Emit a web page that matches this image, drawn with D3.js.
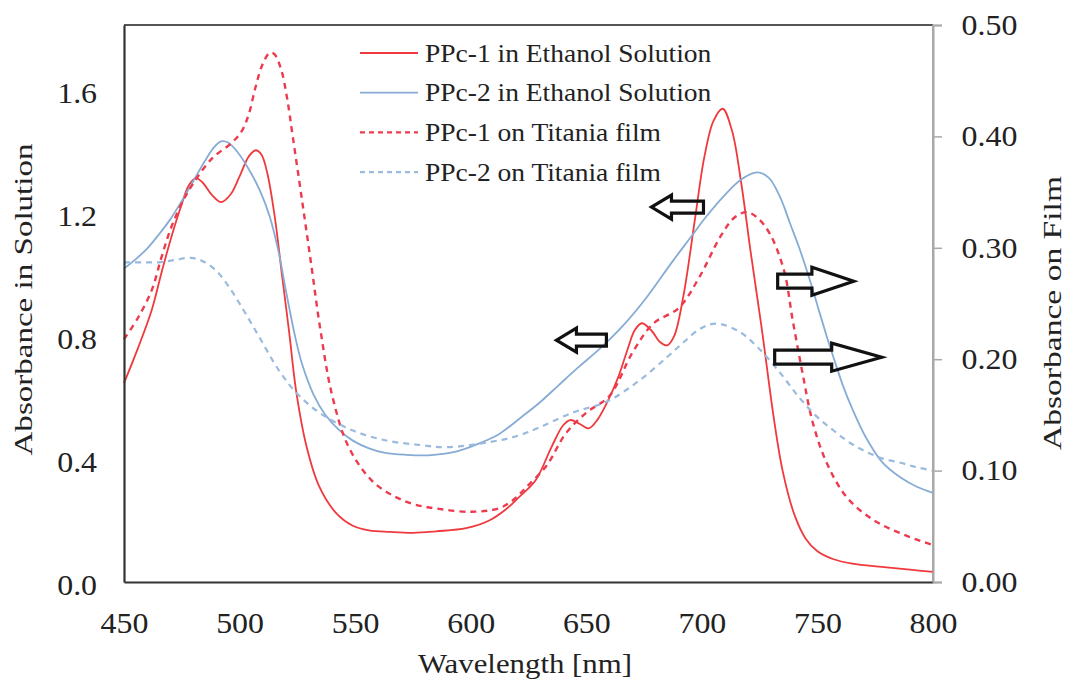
<!DOCTYPE html>
<html><head><meta charset="utf-8">
<script src="https://cdn.jsdelivr.net/npm/d3@7"></script>
<style>
body{margin:0;background:#fff}svg{display:block}
svg text{font-family:"Liberation Serif","Times New Roman",Times,"DejaVu Serif",serif !important;}
</style>
</head><body>
<svg id="chart" width="1068" height="680"></svg>
<script>
// ---- data (wavelength nm, absorbance) ----
const ppc1Solution = [[450,0.647],[456,0.76],[462,0.885],[466,1.0],[470,1.11],[475,1.23],[478,1.29],[481,1.314],[484,1.30],[488,1.26],[492,1.236],[496,1.26],[500,1.32],[504,1.385],[507,1.405],[509.5,1.39],[512,1.33],[515,1.2],[518.5,0.99],[521.5,0.81],[524.5,0.62],[529,0.44],[534.5,0.31],[541.8,0.224],[549,0.183],[556,0.168],[565,0.163],[575,0.16],[585,0.165],[598,0.175],[608,0.20],[615,0.235],[621,0.277],[628,0.33],[635,0.44],[640,0.51],[643,0.527],[647,0.515],[651,0.50],[655,0.53],[660,0.6],[664,0.67],[668,0.76],[671,0.82],[674,0.842],[678,0.82],[682,0.78],[685,0.77],[688,0.8],[692,0.93],[697,1.18],[701,1.38],[705,1.5],[709,1.54],[713,1.47],[717,1.3],[721,1.08],[726,0.82],[731,0.54],[735,0.36],[740,0.22],[745,0.14],[750,0.1],[757,0.074],[765,0.06],[778,0.049],[790,0.04],[800,0.033]];
const ppc2Solution = [[450,1.02],[455,1.05],[460,1.085],[465,1.13],[470,1.18],[475,1.24],[480,1.305],[485,1.37],[489,1.415],[492,1.434],[495,1.43],[499,1.40],[505,1.33],[509,1.27],[513,1.19],[517,1.07],[520,0.95],[524,0.80],[527,0.71],[532,0.61],[537,0.545],[543,0.495],[549,0.46],[556,0.435],[563,0.42],[572,0.414],[583,0.413],[594,0.425],[604,0.452],[612,0.48],[622,0.537],[630,0.585],[638,0.64],[646,0.695],[656,0.76],[666,0.835],[676,0.925],[687,1.04],[695,1.12],[702,1.19],[710,1.26],[717,1.31],[724,1.333],[729,1.315],[734,1.25],[738,1.17],[742,1.09],[746,1.0],[750,0.90],[754,0.80],[757,0.73],[761,0.64],[765,0.565],[771,0.47],[778,0.39],[786,0.34],[793,0.31],[800,0.29]];
const ppc1Film = [[450,0.218],[456,0.237],[462,0.262],[466,0.29],[470,0.316],[475,0.34],[480,0.358],[488,0.38],[497,0.395],[501,0.405],[504,0.42],[507,0.445],[510,0.465],[513,0.475],[515,0.474],[518,0.46],[520.5,0.435],[523,0.400],[527,0.343],[531,0.285],[535,0.226],[540,0.168],[547,0.122],[557,0.0915],[566,0.078],[575,0.07],[585,0.066],[600,0.063],[612,0.066],[618,0.073],[624,0.085],[633,0.105],[641,0.133],[650,0.152],[660,0.167],[670,0.206],[679,0.232],[690,0.246],[699,0.274],[708,0.31],[714,0.327],[719.4,0.332],[724,0.327],[729.3,0.313],[735.5,0.28],[739.3,0.235],[743.6,0.187],[748,0.143],[754,0.107],[762.7,0.076],[774,0.056],[785.6,0.044],[800,0.033]];
const ppc2Film = [[450,0.287],[458,0.287],[465,0.287],[472,0.289],[479,0.291],[485,0.287],[491,0.277],[496,0.263],[500,0.25],[504,0.236],[508.5,0.22],[517,0.19],[524.5,0.17],[534.5,0.152],[549,0.136],[563.5,0.127],[578,0.123],[590,0.121],[608,0.1256],[620,0.131],[630,0.139],[644,0.152],[659,0.162],[673,0.181],[685,0.202],[692,0.215],[699,0.227],[706,0.232],[716,0.225],[724,0.211],[733,0.19],[742,0.166],[750,0.148],[757,0.136],[764,0.125],[771,0.117],[778,0.111],[786,0.107],[793,0.103],[800,0.1]];

const seriesNames = ["PPc-1 in Ethanol Solution","PPc-2 in Ethanol Solution","PPc-1 on Titania film","PPc-2 on Titania film"];
const xTicks = [450,500,550,600,650,700,750,800];
const leftTicks = [0,0.4,0.8,1.2,1.6];
const rightTicks = [0,0.1,0.2,0.3,0.4,0.5];
// arrows: [tail wavelength, tip wavelength, value, axis]
const arrows = [[700.7,678.2,1.22,"L"],[658.7,637.1,0.787,"L"],[732.8,765.7,0.27,"R"],[731.5,777.8,0.2018,"R"]];

// ---- layout ----
const W=1068,H=680, m={left:124,right:135,top:25,bottom:98};
const svg=d3.select("#chart");
const x=d3.scaleLinear([450,800],[m.left,W-m.right]);
const yL=d3.scaleLinear([0,1.8125],[H-m.bottom,m.top]);
const yR=d3.scaleLinear([0,0.5],[H-m.bottom,m.top]);
const font="Liberation Serif, Times New Roman, serif";
const sx=1.1; // horizontal stretch of the reference lettering

const styles=[
 {data:ppc1Solution,y:yL,color:"#f0393c",dash:null,w:1.8},
 {data:ppc2Solution,y:yL,color:"#86acd5",dash:null,w:1.8},
 {data:ppc1Film,y:yR,color:"#ec3b4e",dash:"6,5",w:2.4},
 {data:ppc2Film,y:yR,color:"#9bbbde",dash:"6,5",w:2.2}
];

// frame
svg.append("line").attr("x1",m.left).attr("x2",W-m.right).attr("y1",m.top).attr("y2",m.top).attr("stroke","#555").attr("stroke-width",2);
svg.append("line").attr("x1",W-m.right).attr("x2",W-m.right).attr("y1",m.top).attr("y2",H-m.bottom).attr("stroke","#a8a8a8").attr("stroke-width",2);

// lines
const g=svg.append("g");
styles.forEach(s=>{
  const line=d3.line().x(d=>x(d[0])).y(d=>s.y(d[1])).curve(d3.curveCatmullRom.alpha(0.5));
  g.append("path").datum(s.data).attr("d",line).attr("fill","none")
   .attr("stroke",s.color).attr("stroke-width",s.w).attr("stroke-dasharray",s.dash);
});

// axes
const ax=svg.append("g").attr("transform",`translate(0,${H-m.bottom})`)
  .call(d3.axisBottom(x).tickValues(xTicks).tickSize(0).tickPadding(0).tickFormat(d3.format("d")));
ax.attr("font-family",font);
ax.select(".domain").attr("stroke","#333").attr("stroke-width",2.2);
ax.selectAll("text").attr("font-size",29).attr("fill","#222").attr("dy","1.75em").attr("transform",`scale(${sx},1)`);

const al=svg.append("g").attr("transform",`translate(${m.left},0)`)
  .call(d3.axisLeft(yL).tickValues(leftTicks).tickSize(0).tickPadding(24.5).tickFormat(d3.format(".1f")));
al.attr("font-family",font);
al.select(".domain").attr("stroke","#333").attr("stroke-width",2.2);
al.selectAll("text").attr("font-size",29).attr("fill","#222").attr("dy","0.42em").attr("transform",`scale(${sx},1)`);

const ar=svg.append("g").attr("transform",`translate(${W-m.right},0)`)
  .call(d3.axisRight(yR).tickValues(rightTicks).tickSize(9).tickPadding(17).tickFormat(d3.format(".2f")));
ar.attr("font-family",font);
ar.select(".domain").attr("stroke","#a8a8a8").attr("stroke-width",2);
ar.selectAll(".tick line").attr("stroke","#a8a8a8").attr("stroke-width",1.5);
ar.selectAll("text").attr("font-size",29).attr("fill","#222").attr("dy","0.32em").attr("transform",`scale(${sx},1)`);

// axis titles
svg.append("text").attr("transform","translate(32,299.5) rotate(-90)")
  .attr("text-anchor","middle").attr("font-size",26).attr("fill","#222")
  .attr("textLength",312).attr("lengthAdjust","spacingAndGlyphs")
  .text("Absorbance in Solution");
svg.append("text").attr("transform","translate(1061,313) rotate(-90)")
  .attr("text-anchor","middle").attr("font-size",25).attr("fill","#222")
  .attr("textLength",274).attr("lengthAdjust","spacingAndGlyphs")
  .text("Absorbance on Film");
svg.append("text").attr("x",525).attr("y",673)
  .attr("text-anchor","middle").attr("font-size",28).attr("fill","#222")
  .attr("textLength",214).attr("lengthAdjust","spacingAndGlyphs")
  .text("Wavelength [nm]");

// legend
const lg=svg.append("g").attr("transform","translate(360,53)");
styles.forEach((s,i)=>{
  const r=lg.append("g").attr("transform",`translate(0,${i*39.7})`);
  r.append("line").attr("x1",0).attr("x2",58).attr("stroke",s.color).attr("stroke-width",s.w).attr("stroke-dasharray",s.dash?"5,4":null);
  r.append("text").attr("transform",`translate(65,0) scale(${sx},1)`).attr("dy","0.35em").attr("font-size",25).attr("fill","#222").text(seriesNames[i]);
});

// arrows
arrows.forEach(a=>{
  const yS=a[3]==="L"?yL:yR;
  const x0=x(a[0]), x1=x(a[1]), cy=yS(a[2]);
  const dir=Math.sign(x1-x0);
  const len=Math.abs(x1-x0);
  const big=a[3]==="R";
  const shaft=big?14:12, head=big?28:24, hl=big?Math.min(50,len*0.55):Math.min(20,len*0.4);
  const xb=x1-dir*hl;
  const p=d3.path();
  p.moveTo(x0,cy-shaft/2); p.lineTo(xb,cy-shaft/2); p.lineTo(xb,cy-head/2); p.lineTo(x1,cy);
  p.lineTo(xb,cy+head/2); p.lineTo(xb,cy+shaft/2); p.lineTo(x0,cy+shaft/2); p.closePath();
  svg.append("path").attr("d",p.toString()).attr("fill","none").attr("stroke","#111").attr("stroke-width",3.2).attr("stroke-linejoin","miter");
});
</script>
</body></html>
